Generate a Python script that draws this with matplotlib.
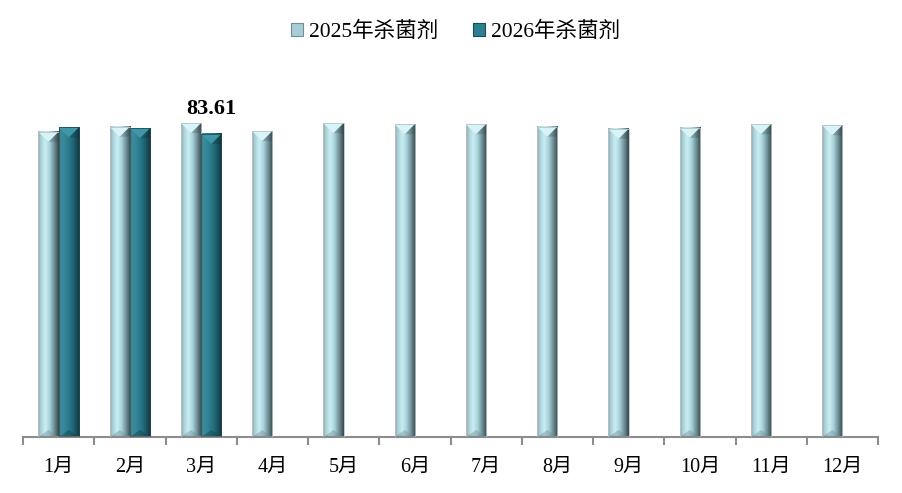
import numpy as np
import matplotlib
matplotlib.use("Agg")
import matplotlib.pyplot as plt
from matplotlib.patches import Rectangle, Polygon
from matplotlib.colors import LinearSegmentedColormap

plt.rcParams['font.family'] = ['Liberation Serif', 'Noto Sans CJK SC', 'DejaVu Sans']

months = ['1月', '2月', '3月', '4月', '5月', '6月', '7月', '8月', '9月', '10月', '11月', '12月']
series_names = ['2025年杀菌剂', '2026年杀菌剂']
values_2025 = [84.2, 85.6, 86.6, 84.4, 86.6, 86.3, 86.3, 85.6, 85.0, 85.3, 86.3, 86.0]
values_2026 = [85.4, 85.2, 83.61]
label_text = '83.61'

W, H, DPI = 902, 493, 100
fig = plt.figure(figsize=(W / DPI, H / DPI), dpi=DPI)
ax_left, ax_right = 23 / W, 878 / W
ax_bottom = (H - 437) / H
ax_top = (H - 89) / H
ax = fig.add_axes([ax_left, ax_bottom, ax_right - ax_left, ax_top - ax_bottom])
ymax = 96
ax.set_ylim(0, ymax)
ax.set_xlim(-0.5, len(months) - 0.5)

bw = 0.285
x = np.arange(len(months))
x25 = x[:len(values_2025)] - bw / 2
x26 = x[:len(values_2026)] + bw / 2

bars25 = ax.bar(x25, values_2025, width=bw, color='none', edgecolor='none', zorder=2)
bars26 = ax.bar(x26, values_2026, width=bw, color='none', edgecolor='none', zorder=2)

cmap25 = LinearSegmentedColormap.from_list('c25', [
    (0.0, '#8aa3a8'), (0.12, '#a9cdd4'), (0.35, '#c9eef4'), (0.55, '#a9d3dc'),
    (0.78, '#6f8e95'), (1.0, '#34464b')])
cmap26 = LinearSegmentedColormap.from_list('c26', [
    (0.0, '#3b7f8c'), (0.15, '#3d8c9c'), (0.4, '#2d7f91'), (0.65, '#226978'),
    (0.85, '#184c57'), (1.0, '#0f2f37')])

axes_h_px = 437 - 89
data_per_px = ymax / axes_h_px
top_bevel = 10 * data_per_px
bot_bevel = 7 * data_per_px
grad = np.linspace(0, 1, 200).reshape(1, -1)


def decorate(bars, cmap, top_col, right_col, bot_col, edge):
    for b in bars:
        x0, w, h = b.get_x(), b.get_width(), b.get_height()
        ax.imshow(grad, cmap=cmap, aspect='auto', extent=[x0, x0 + w, 0, h],
                  zorder=2, interpolation='bilinear')
        xc = x0 + w / 2
        # top bevel: light triangle above a V
        ax.add_patch(Polygon([[x0, h], [x0 + w, h], [xc, h - top_bevel]],
                             closed=True, facecolor=top_col, edgecolor='none', zorder=3))
        # right bevel face slightly darker
        ax.add_patch(Polygon([[x0 + w, h], [xc, h - top_bevel], [x0 + w, h - top_bevel]],
                             closed=True, facecolor=right_col, edgecolor='none', zorder=3, alpha=0.25))
        # bottom bevel
        ax.add_patch(Polygon([[x0, 0], [x0 + w, 0], [xc, bot_bevel]],
                             closed=True, facecolor=bot_col, edgecolor='none', zorder=3, alpha=0.4))
        ax.add_patch(Rectangle((x0, 0), w, h, facecolor='none', edgecolor=edge,
                               linewidth=0.6, zorder=4))


decorate(bars25, cmap25, '#d9f4f9', '#2f4246', '#6f8a90', '#b8c4c6')
decorate(bars26, cmap26, '#3f97a8', '#0c2a31', '#0f3a44', '#1e4e58')

# data label
ax.annotate(label_text, xy=(x26[2], values_2026[2]), xytext=(0, 11), textcoords='offset points',
            ha='center', va='bottom', fontsize=16, fontweight='bold', color='#000000',
            family=['Liberation Serif', 'DejaVu Serif'], zorder=5)

for s in ['left', 'right', 'top']:
    ax.spines[s].set_visible(False)
ax.spines['bottom'].set_color('#8c8c8c')
ax.spines['bottom'].set_linewidth(1.5)
ax.set_yticks([])
ax.set_xticks(x)
ax.set_xticklabels(months, fontsize=14.5)
ax.tick_params(axis='x', which='major', length=0, pad=15)
ax.set_xticks(np.arange(-0.5, len(months)), minor=True)
ax.tick_params(axis='x', which='minor', length=6, width=1.5, color='#8c8c8c', direction='out')

# legend
h1 = Rectangle((0, 0), 1, 1, facecolor='#a9cdd4', edgecolor='#6f8e95', linewidth=0.8)
h2 = Rectangle((0, 0), 1, 1, facecolor='#2d7f91', edgecolor='#184c57', linewidth=0.8)
fig.legend([h1, h2], series_names, loc='center', bbox_to_anchor=(0.505, 1 - 32 / H), ncol=2,
           frameon=False, fontsize=15.5, handlelength=0.55, handleheight=0.55,
           handletextpad=0.3, columnspacing=1.6)

fig.savefig('out.png', dpi=DPI)
